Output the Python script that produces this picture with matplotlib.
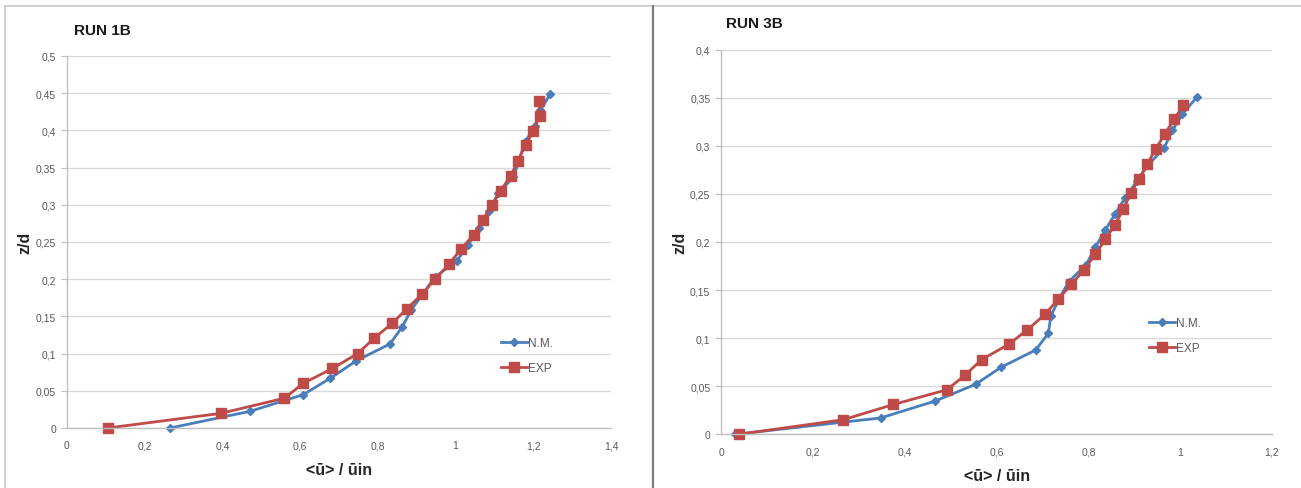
import matplotlib.pyplot as plt
from matplotlib.patches import Rectangle
from matplotlib.ticker import FuncFormatter, MultipleLocator

# RUN 1B profiles
nm1_u = [0.265, 0.471, 0.608, 0.678, 0.745, 0.831, 0.863, 0.886, 0.916, 0.946, 1.004,
         1.032, 1.060, 1.086, 1.110, 1.149, 1.163, 1.178, 1.205, 1.218, 1.244]
nm1_z = [0.0, 0.0224, 0.0448, 0.067, 0.0905, 0.113, 0.136, 0.159, 0.180, 0.2025, 0.225,
         0.246, 0.269, 0.291, 0.316, 0.337, 0.359, 0.384, 0.406, 0.427, 0.449]
exp1_u = [0.105, 0.396, 0.559, 0.608, 0.683, 0.748, 0.790, 0.837, 0.874, 0.914, 0.947,
          0.983, 1.013, 1.047, 1.070, 1.094, 1.116, 1.142, 1.160, 1.180, 1.200, 1.217, 1.215]
exp1_z = [0.0, 0.0197, 0.040, 0.060, 0.080, 0.100, 0.1205, 0.1407, 0.160, 0.180, 0.200,
          0.220, 0.240, 0.260, 0.280, 0.300, 0.319, 0.339, 0.359, 0.380, 0.399, 0.420, 0.440]

# RUN 3B profiles
nm3_u = [0.030, 0.347, 0.466, 0.554, 0.609, 0.685, 0.7125, 0.718, 0.736, 0.757, 0.795,
         0.815, 0.836, 0.858, 0.880, 0.905, 0.930, 0.965, 0.983, 1.0045, 1.037]
nm3_z = [0.0, 0.017, 0.0346, 0.052, 0.0696, 0.0877, 0.105, 0.123, 0.141, 0.1588, 0.1764,
         0.1945, 0.212, 0.229, 0.246, 0.263, 0.280, 0.298, 0.316, 0.333, 0.351]
exp3_u = [0.038, 0.266, 0.375, 0.492, 0.532, 0.567, 0.6275, 0.667, 0.706, 0.734, 0.763,
          0.790, 0.815, 0.837, 0.858, 0.876, 0.892, 0.910, 0.928, 0.947, 0.966, 0.987, 1.007]
exp3_z = [0.0, 0.0152, 0.031, 0.0464, 0.062, 0.0776, 0.094, 0.1088, 0.125, 0.1407, 0.156,
          0.171, 0.187, 0.203, 0.218, 0.234, 0.2506, 0.2655, 0.281, 0.297, 0.312, 0.328, 0.342]

BLUE = '#4a7ebb'
RED = '#be4b48'
GRID = '#d9d9d9'
TXT = '#595959'

plt.rcParams['font.family'] = ['Liberation Sans', 'DejaVu Sans']

fig = plt.figure(figsize=(13.01, 4.89), dpi=100)

# chart frames
fig.patches.append(Rectangle((5 / 1301, -0.01), 648 / 1301, 1 - 7 / 489 + 0.01,
                             transform=fig.transFigure, fill=False,
                             edgecolor='#c8c8c8', lw=1.2))
fig.patches.append(Rectangle((653 / 1301, -0.01), 660 / 1301, 1 - 7 / 489 + 0.01,
                             transform=fig.transFigure, fill=False,
                             edgecolor='#c8c8c8', lw=1.2))
fig.add_artist(plt.Line2D([653 / 1301, 653 / 1301], [0, 1 - 7 / 489],
                          transform=fig.transFigure, color='#7f7f7f', lw=1.6))


def comma(v, pos):
    s = '{:g}'.format(round(v, 4))
    return s.replace('.', ',')


def setup(ax, title, title_pos, xmax, ymax, ystep):
    ax.set_xlim(0, xmax)
    ax.set_ylim(0, ymax)
    ax.xaxis.set_major_locator(MultipleLocator(0.2))
    ax.yaxis.set_major_locator(MultipleLocator(ystep))
    ax.xaxis.set_major_formatter(FuncFormatter(comma))
    ax.yaxis.set_major_formatter(FuncFormatter(comma))
    ax.grid(axis='y', color=GRID, lw=1.0)
    ax.set_axisbelow(True)
    for s in ['top', 'right']:
        ax.spines[s].set_visible(False)
    for s in ['left', 'bottom']:
        ax.spines[s].set_color('#bfbfbf')
        ax.spines[s].set_linewidth(1.0)
    ax.tick_params(axis='y', length=4, color='#bfbfbf', labelsize=7.5, labelcolor=TXT, pad=4)
    ax.tick_params(axis='x', length=0, labelsize=7.5, labelcolor=TXT, pad=9)
    ax.set_xlabel('<ū> / ūin', fontsize=11.5, fontweight='bold', color='#262626', labelpad=8)
    ax.set_ylabel('z/d', fontsize=11.5, fontweight='bold', color='#262626', labelpad=2)
    fig.text(title_pos[0], title_pos[1], title, fontsize=11, fontweight='bold',
             color='#1a1a1a', ha='left', va='center')


ax1 = fig.add_axes([67 / 1301, 60 / 489, 544 / 1301, 372 / 489])
setup(ax1, 'RUN 1B', (74 / 1301, 1 - 31 / 489), 1.4, 0.5, 0.05)
ax1.plot(nm1_u, nm1_z, color=BLUE, lw=2, marker='D', ms=4.5, label='N.M.', clip_on=False)
ax1.plot(exp1_u, exp1_z, color=RED, lw=2, marker='s', ms=7, label='EXP', clip_on=False)

ax2 = fig.add_axes([721.4 / 1301, 53.7 / 489, 550.6 / 1301, 384.6 / 489])
setup(ax2, 'RUN 3B', (726 / 1301, 1 - 24 / 489), 1.2, 0.4, 0.05)
ax2.plot(nm3_u, nm3_z, color=BLUE, lw=2, marker='D', ms=4.5, label='N.M.', clip_on=False)
ax2.plot(exp3_u, exp3_z, color=RED, lw=2, marker='s', ms=7, label='EXP', clip_on=False)

for ax, loc in [(ax1, (0.778, 0.117)), (ax2, (0.757, 0.181))]:
    ax.legend(loc='lower left', bbox_to_anchor=loc, frameon=False, fontsize=8.5,
              handlelength=2.2, handletextpad=0.1, labelspacing=1.1, labelcolor=TXT)

fig.savefig('out.png', dpi=100)
